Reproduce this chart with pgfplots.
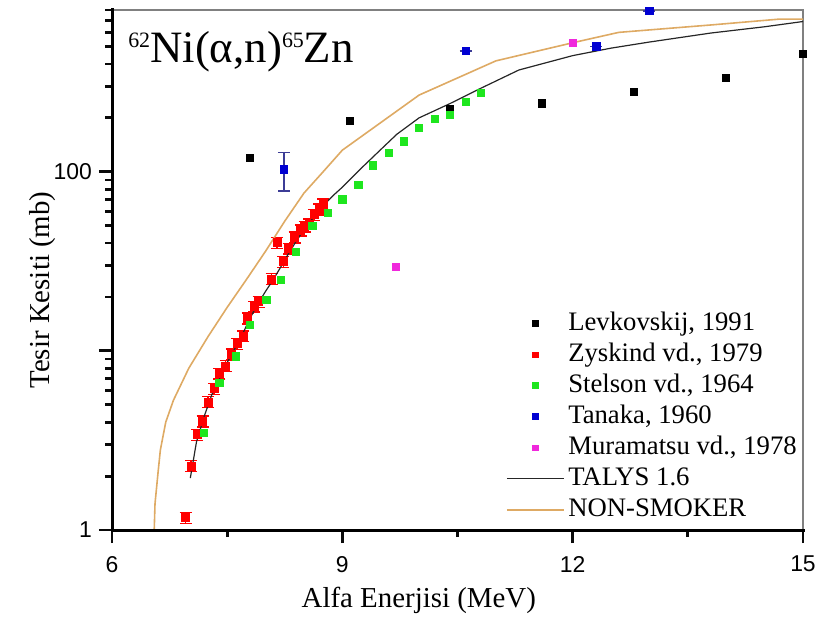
\documentclass[border=0pt]{standalone}
\usepackage{fontspec}
\setmainfont{Liberation Serif}
\setsansfont{Liberation Sans}
\usepackage{pgfplots}
\pgfplotsset{compat=1.18}

\definecolor{nsmoker}{RGB}{222,170,100}
\definecolor{grn}{RGB}{30,230,30}
\definecolor{blu}{RGB}{0,0,210}
\definecolor{mag}{RGB}{240,40,220}
\definecolor{ebblue}{RGB}{60,60,150}
\definecolor{tickc}{RGB}{10,10,10}

\begin{document}
\begin{tikzpicture}
\begin{axis}[
    scale only axis, width=345.5bp, height=260bp,
    xmin=6, xmax=15, ymin=1, ymax=800, ymode=log,
    axis line style={gray, line width=0.6bp},
    xtick pos=bottom, ytick pos=left,
    tick align=outside,
    major tick length=6.5bp, minor tick length=3.5bp,
    every tick/.style={draw=tickc, line width=1.4bp},
    xtick={6,9,12,15}, minor xtick={7.5,10.5,13.5},
    ytick={1,10,100}, yticklabels={1,{},100},
    minor ytick={2,3,4,5,6,7,8,9,20,30,40,50,60,70,80,90,200,300,400,500,600,700,800},
    /pgf/number format/assume math mode=true,
    ticklabel style={font=\fontsize{11.5}{12}\sffamily},
    xticklabel style={yshift=-3bp},
    xlabel={Alfa Enerjisi (MeV)}, ylabel={Tesir Kesiti (mb)},
    every axis x label/.style={at={(rel axis cs:0.444,-0.135)}, anchor=center,
        font=\fontsize{14.5}{16}\selectfont},
    every axis y label/.style={at={(rel axis cs:-0.101,0.4615)}, rotate=90, anchor=center,
        font=\fontsize{14.5}{16}\selectfont},
    legend style={draw=none, fill=none, at={(rel axis cs:0.561,0.435)}, anchor=north west,
        font=\fontsize{13.4}{15.5}\selectfont, row sep=0pt,
        nodes={inner ysep=1.5bp, text height=9.5bp, text depth=3bp}},
    legend cell align=left,
    legend image code/.code={\draw[mark repeat=2,mark phase=2,#1] plot coordinates {(0cm,0cm) (0.5cm,0cm) (1cm,0cm)};},
    every legend image post/.append style={mark size=1.4bp},
]
\coordinate (bl) at (rel axis cs:0,0);
\coordinate (tr) at (rel axis cs:1,1);

% Levkovskij
\addplot[only marks, mark=square*, mark size=1.8bp, black] coordinates {
(7.8,119) (9.1,192) (10.4,223) (11.6,241) (12.8,278) (14.0,334) (15.0,457)};
\addlegendentry{Levkovskij, 1991}

% Zyskind, relative errors
\addplot[only marks, mark=square*, mark size=2bp, red,
    error bars/.cd, y dir=both, y explicit relative,
    error bar style={red, line width=0.7bp},
    error mark options={rotate=90, red, mark size=3bp, line width=0.7bp}]
table[x=x, y=y, y error=e] {
x y e
6.96 1.17 0.07
7.03 2.28 0.07
7.11 3.40 0.07
7.18 4.05 0.07
7.25 5.18 0.07
7.33 6.15 0.07
7.40 7.48 0.07
7.48 8.24 0.07
7.56 9.56 0.07
7.63 10.97 0.07
7.71 12.1 0.07
7.77 15.2 0.07
7.85 17.7 0.07
7.91 18.8 0.07
8.08 25.2 0.07
8.15 40.1 0.07
8.23 31.5 0.07
8.30 37.3 0.07
8.38 43.1 0.07
8.46 47.2 0.07
8.51 49.5 0.07
8.57 51.0 0.07
8.63 57.6 0.07
8.70 61.6 0.07
8.75 65.7 0.07
};
\addlegendentry{Zyskind vd., 1979}

% Stelson
\addplot[only marks, mark=square*, mark size=1.8bp, grn] coordinates {
(7.20,3.50) (7.40,6.61) (7.61,9.31) (7.80,13.96) (8.01,19.3) (8.20,24.8)
(8.40,35.6) (8.61,49.7) (8.81,59.1) (9.00,70.1) (9.21,84.3) (9.40,108.6)
(9.61,126.8) (9.80,147.9) (10.00,176.6) (10.21,196.4) (10.40,206.7)
(10.61,246.6) (10.80,275.4)};
\addlegendentry{Stelson vd., 1964}

% Tanaka
\addplot[only marks, mark=square*, mark size=1.8bp, blu,
    error bars/.cd, y dir=both, y explicit,
    error bar style={ebblue, line width=0.7bp},
    error mark options={rotate=90, ebblue, mark size=3bp, line width=0.7bp}]
table[x=x, y=y, y error=e] {
x y e
8.24 103 25
10.61 473 0
12.31 501 0
13.0 790 0
};
\addlegendentry{Tanaka, 1960}

% Muramatsu
\addplot[only marks, mark=square*, mark size=1.8bp, mag] coordinates {
(9.70,29.5) (12.0,525)};
\addlegendentry{Muramatsu vd., 1978}

% TALYS 1.6
\addplot[no marks, black!85, line width=0.6bp] coordinates {
(7.02,1.95) (7.1,3.1) (7.2,4.3) (7.3,5.7) (7.4,7.0) (7.5,8.6) (7.6,10.3)
(7.7,12.4) (7.8,15.3) (7.9,18.3) (8.0,21.5) (8.1,25) (8.2,29.5) (8.3,35)
(8.4,41) (8.5,47.5) (8.6,54) (8.7,61) (8.8,68) (8.9,75) (9.0,82)
(9.27,107) (9.5,133) (9.71,162) (10.0,200) (10.4,240) (10.8,292)
(11.3,370) (12.0,445) (12.5,490) (13.0,530) (13.8,595) (14.5,645) (15.0,690)};
\addlegendentry{TALYS 1.6}

% NON-SMOKER
\addplot[no marks, nsmoker, line width=0.8bp] coordinates {
(6.55,1.0) (6.56,1.4) (6.6,2.1) (6.63,2.8) (6.7,4.0) (6.8,5.3) (7.0,8.0)
(7.25,12.0) (7.5,17.5) (7.75,25) (8.0,36) (8.25,53) (8.5,76) (8.75,100)
(9.0,132) (10.0,268) (11.0,416) (12.0,525) (12.6,600) (13.8,660)
(14.7,712) (15.0,712)};
\addlegendentry{NON-SMOKER}

\node[anchor=base west, inner sep=0pt] at (rel axis cs:0.023,0.9)
  {\fontsize{22.5}{24}\selectfont\raisebox{7.5bp}{\fontsize{11}{11}\selectfont 62}Ni(α,n)\raisebox{7.5bp}{\fontsize{11}{11}\selectfont 65}Zn};
\end{axis}
\draw[black, line width=1.5bp, line cap=rect] (tr |- bl) -- (bl) -- (bl |- tr);
\pgfresetboundingbox
\useasboundingbox ([xshift=-56bp,yshift=-45.5bp]bl) rectangle ([xshift=8bp,yshift=5bp]tr);
\end{tikzpicture}
\end{document}
